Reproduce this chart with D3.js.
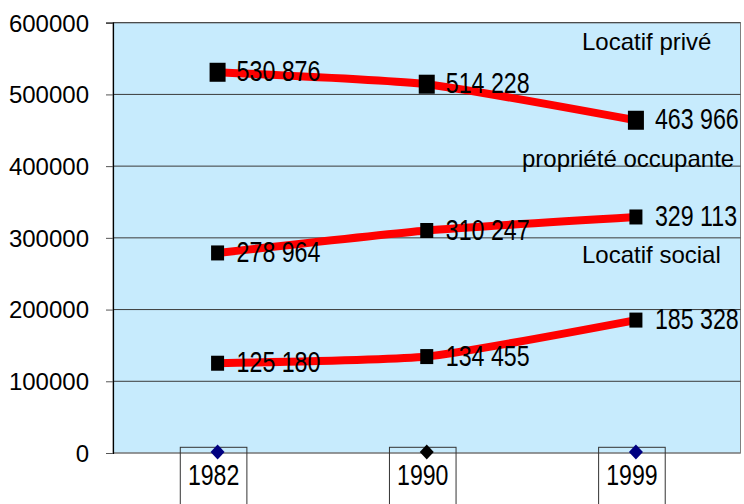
<!DOCTYPE html>
<html>
<head>
<meta charset="utf-8">
<script src="https://cdn.jsdelivr.net/npm/d3@7"></script>
<style>
  html, body { margin: 0; padding: 0; background: #ffffff; }
  svg { display: block; }
</style>
</head>
<body>
<svg id="chart" width="744" height="504"></svg>
<script>
// ---- Data ----
const years = ["1982", "1990", "1999"];
const seriesNames = ["Locatif privé", "propriété occupante", "Locatif social"];
const locatifPrive = [530876, 514228, 463966];
const proprieteOccupante = [278964, 310247, 329113];
const locatifSocial = [125180, 134455, 185328];
const yTicks = [0, 100000, 200000, 300000, 400000, 500000, 600000];
const series = [locatifPrive, proprieteOccupante, locatifSocial];

// ---- Layout ----
const W = 744, H = 504;
const plot = { left: 113, right: 740.5, top: 22.7, bottom: 453 };
const svg = d3.select("#chart");
const FONT = "'Liberation Sans', Arial, sans-serif";

const x = d3.scaleBand().domain(years).range([plot.left, plot.right]).padding(0);
const cx = d => x(d) + x.bandwidth() / 2;
const y = d3.scaleLinear().domain([0, 600000]).range([plot.bottom, plot.top]);

const fr = d3.formatLocale({ decimal: ",", thousands: " ", grouping: [3], currency: ["", " €"] });
const fmt = fr.format(",d");

// plot background
svg.append("rect")
  .attr("x", plot.left).attr("y", plot.top)
  .attr("width", plot.right - plot.left).attr("height", plot.bottom - plot.top)
  .attr("fill", "#c7ebfd")
  .attr("stroke", "#808080").attr("stroke-width", 1);

// gridlines
svg.append("g").selectAll("line")
  .data(yTicks.filter(t => t > 0))
  .join("line")
  .attr("x1", plot.left).attr("x2", plot.right)
  .attr("y1", d => y(d)).attr("y2", d => y(d))
  .attr("stroke", "#3a3a3a").attr("stroke-width", 1);

// bottom axis line
svg.append("line")
  .attr("x1", plot.left).attr("x2", plot.right)
  .attr("y1", plot.bottom).attr("y2", plot.bottom)
  .attr("stroke", "#707070").attr("stroke-width", 1.2);

// y axis
const yAxis = d3.axisLeft(y).tickValues(yTicks).tickSize(7).tickPadding(17)
  .tickFormat(d3.format("d"));
const gy = svg.append("g").attr("transform", `translate(${plot.left},0)`).call(yAxis);
gy.select(".domain").attr("stroke", "#000").attr("stroke-width", 1.2);
gy.selectAll(".tick line").attr("stroke", "#555");
gy.selectAll(".tick text")
  .attr("font-family", FONT).attr("font-size", 24).attr("fill", "#000")
  .attr("dy", "0.35em");

// year boxes + labels
const yearG = svg.append("g");
years.forEach(yr => {
  const c = cx(yr) - 4;
  yearG.append("rect")
    .attr("x", c - 33.3).attr("y", 447.3)
    .attr("width", 66.6).attr("height", 70)
    .attr("fill", "none").attr("stroke", "#333").attr("stroke-width", 1);
  yearG.append("g")
    .attr("transform", `translate(${c},485) scale(0.77,1)`)
    .append("text")
    .attr("text-anchor", "middle")
    .attr("font-family", FONT).attr("font-size", 30).attr("fill", "#000")
    .text(yr);
});

// diamonds on the x axis
const diamondColors = ["#000080", "#000000", "#000080"];
svg.append("g").selectAll("path")
  .data(years)
  .join("path")
  .attr("d", d => {
    const px = cx(d), py = plot.bottom - 1;
    return `M${px},${py - 7.5}L${px + 7},${py}L${px},${py + 7.5}L${px - 7},${py}Z`;
  })
  .attr("fill", (d, i) => diamondColors[i]);

// lines
const line = d3.line()
  .x((d, i) => cx(years[i]))
  .y(d => y(d))
  .curve(d3.curveCardinal.tension(0.5));

const markerSize = [[16, 19], [13, 15], [13, 15]];

series.forEach((vals, si) => {
  svg.append("path")
    .datum(vals)
    .attr("d", line)
    .attr("fill", "none")
    .attr("stroke", "#ff0000")
    .attr("stroke-width", 8)
    .attr("stroke-linejoin", "round");
});

series.forEach((vals, si) => {
  const [mw, mh] = markerSize[si];
  svg.append("g").selectAll("rect")
    .data(vals)
    .join("rect")
    .attr("x", (d, i) => cx(years[i]) - mw / 2)
    .attr("y", d => y(d) - mh / 2)
    .attr("width", mw).attr("height", mh)
    .attr("fill", "#000");
  svg.append("g").selectAll("g")
    .data(vals)
    .join("g")
    .attr("transform", (d, i) => `translate(${cx(years[i]) + 19},${y(d) + 9}) scale(0.8,1)`)
    .append("text")
    .attr("font-family", FONT).attr("font-size", 29).attr("fill", "#000")
    .text(d => fmt(d));
});

// series names
const namePos = [[582, 50], [522, 167], [582, 263]];
svg.append("g").selectAll("text")
  .data(seriesNames)
  .join("text")
  .attr("x", (d, i) => namePos[i][0])
  .attr("y", (d, i) => namePos[i][1])
  .attr("font-family", FONT).attr("font-size", 24).attr("fill", "#000")
  .text(d => d);
</script>
</body>
</html>
